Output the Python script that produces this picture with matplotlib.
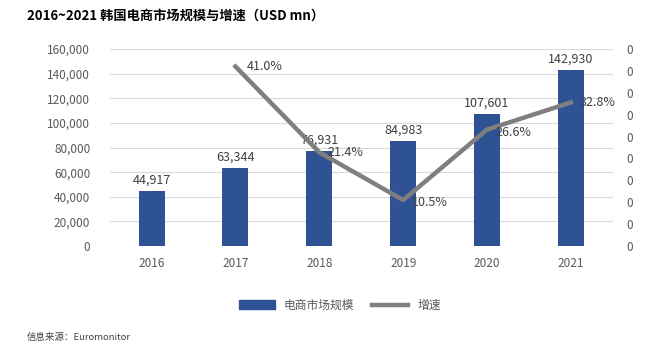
import matplotlib.pyplot as plt
from matplotlib.ticker import FuncFormatter, MultipleLocator

plt.rcParams['font.family'] = ['Noto Sans CJK SC', 'DejaVu Sans']

years = ["2016", "2017", "2018", "2019", "2020", "2021"]
market_size = [44917, 63344, 76931, 84983, 107601, 142930]
growth_years = ["2017", "2018", "2019", "2020", "2021"]
growth = [0.410, 0.214, 0.105, 0.266, 0.328]

bar_color = "#2F5294"
line_color = "#7F7F7F"
text_color = "#595959"

fig = plt.figure(figsize=(6.69, 3.5), dpi=100)
ax = fig.add_axes([0.164, 0.297, 0.752, 0.563])
ax2 = ax.twinx()

x = list(range(len(years)))
ax.bar(x, market_size, width=0.31, color=bar_color, zorder=3)
for xi, v in zip(x, market_size):
    ax.text(xi, v + 3500, f"{v:,}", ha="center", va="bottom", fontsize=9, color="#404040")

ax.set_ylim(0, 160000)
ax.yaxis.set_major_locator(MultipleLocator(20000))
ax.yaxis.set_major_formatter(FuncFormatter(lambda v, p: f"{int(v):,}"))
ax.set_xlim(-0.5, len(years) - 0.5)
ax.set_xticks(x)
ax.set_xticklabels(years)
ax.grid(axis="y", color="#D9D9D9", linewidth=0.8, zorder=0)
ax.set_axisbelow(True)

gx = [years.index(y) for y in growth_years]
ax2.plot(gx, growth, color=line_color, linewidth=3.2, zorder=4)
offsets = [(8, 0), (6, 0), (6, -2), (6, -2), (6, 0)]
for xi, g, (dx, dy) in zip(gx, growth, offsets):
    ax2.annotate(f"{g*100:.1f}%", (xi, g), xytext=(dx, dy), textcoords="offset points",
                 ha="left", va="center", fontsize=9, color="#404040", zorder=5)
ax2.set_ylim(0, 0.45)
ax2.yaxis.set_major_locator(MultipleLocator(0.05))
ax2.yaxis.set_major_formatter(FuncFormatter(lambda v, p: "0"))

for a in (ax, ax2):
    for s in a.spines.values():
        s.set_visible(False)
    a.tick_params(length=0, colors=text_color, labelsize=8.5)
ax.tick_params(axis="y", pad=14)
ax.tick_params(axis="x", pad=8)
ax2.tick_params(axis="y", pad=10)

fig.text(0.04, 0.955, "2016~2021 韩国电商市场规模与增速（USD mn）", fontsize=9.5,
         fontweight="bold", color="black", ha="left", va="center")

handles = [plt.Rectangle((0, 0), 1, 1, color=bar_color),
           plt.Line2D([0], [0], color=line_color, linewidth=3.2)]
fig.legend(handles, ["电商市场规模", "增速"], loc="center", bbox_to_anchor=(0.508, 0.128),
           ncol=2, frameon=False, fontsize=8.5, handlelength=3.0, columnspacing=1.5,
           labelcolor=text_color)

fig.text(0.04, 0.037, "信息来源：Euromonitor", fontsize=6.8, color="#404040", ha="left", va="center")

fig.savefig("out.png", dpi=100)
